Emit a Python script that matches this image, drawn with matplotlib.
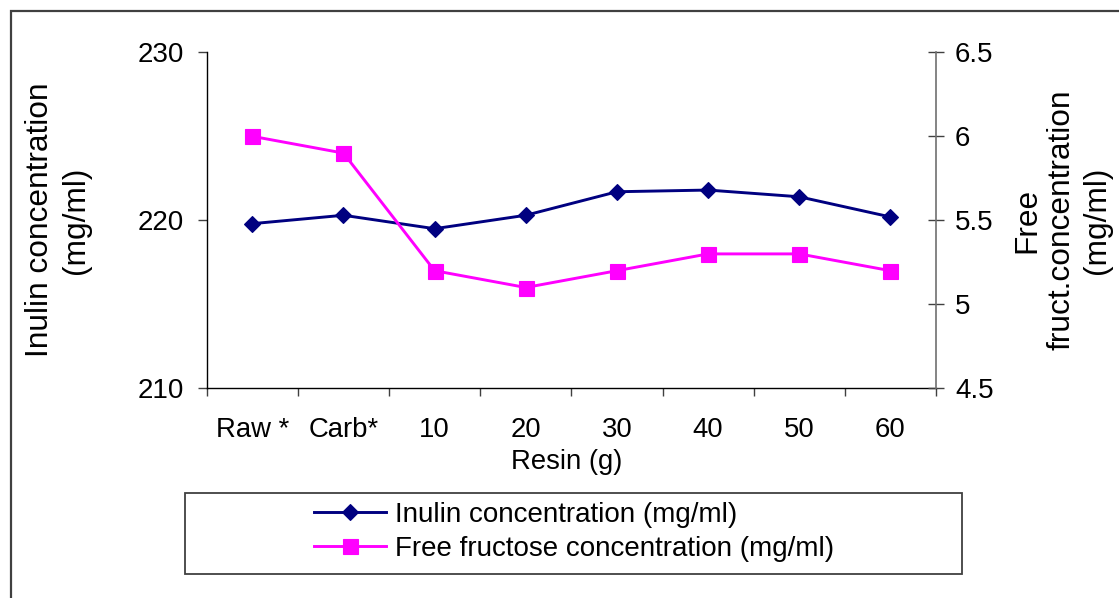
import matplotlib
matplotlib.use("Agg")
import matplotlib.pyplot as plt
from matplotlib.patches import Rectangle
from matplotlib.ticker import FixedLocator, NullFormatter

plt.rcParams["font.family"] = ["Liberation Sans", "DejaVu Sans"]

# Data
categories = ["Raw *", "Carb*", "10", "20", "30", "40", "50", "60"]
inulin = [219.8, 220.3, 219.5, 220.3, 221.7, 221.8, 221.4, 220.2]
fructose = [6.0, 5.9, 5.2, 5.1, 5.2, 5.3, 5.3, 5.2]
inulin_ticks = [210, 220, 230]
fructose_ticks = [4.5, 5, 5.5, 6, 6.5]
fructose_ticklabels = ["4.5", "5", "5.5", "6", "6.5"]

W, H = 1119, 598
fig = plt.figure(figsize=(W / 100, H / 100), dpi=100)
fig.patch.set_facecolor("white")

# Plot area in pixel terms
x0, x1, ytop, ybot = 206.7, 936.0, 52.3, 388.3
ax = fig.add_axes([x0 / W, 1 - ybot / H, (x1 - x0) / W, (ybot - ytop) / H])
ax2 = ax.twinx()

NAVY = "#000080"
MAGENTA = "#FF00FF"
xs = list(range(len(categories)))

l1, = ax.plot(xs, inulin, color=NAVY, lw=2.1, marker="D", ms=8.3,
              mec=NAVY, mew=0.8, zorder=3)
l2, = ax2.plot(xs, fructose, color=MAGENTA, lw=2.1, marker="s", ms=10.8,
               mec=MAGENTA, mew=0.8, zorder=3)

# Primary axis
ax.set_xlim(-0.5, len(categories) - 0.5)
ax.set_ylim(210, 230)
ax.set_yticks(inulin_ticks)
ax.set_yticklabels([str(t) for t in inulin_ticks])
ax.spines["top"].set_visible(False)
ax.spines["right"].set_visible(False)
ax.spines["left"].set_color("black")
ax.spines["bottom"].set_color("black")
ax.spines["left"].set_linewidth(1.0)
ax.spines["bottom"].set_linewidth(1.0)
ax.tick_params(axis="y", direction="out", length=6.5, width=1.0, color="#404040",
               labelsize=20, pad=10)

ax.set_xticks(xs)
ax.set_xticklabels(categories)
ax.xaxis.set_minor_locator(FixedLocator([i - 0.5 for i in range(len(categories) + 1)]))
ax.xaxis.set_minor_formatter(NullFormatter())
ax.tick_params(axis="x", which="major", length=0, labelsize=19.8, pad=20.5)
ax.tick_params(axis="x", which="minor", direction="out", length=5.8, width=1.0,
               color="#404040")

# Secondary axis
ax2.set_ylim(4.5, 6.5)
ax2.set_yticks(fructose_ticks)
ax2.set_yticklabels(fructose_ticklabels)
for s in ("top", "left", "bottom"):
    ax2.spines[s].set_visible(False)
ax2.spines["right"].set_color("#707070")
ax2.spines["right"].set_linewidth(1.2)
ax2.tick_params(axis="y", direction="inout", length=11.5, width=1.0, color="#404040",
                labelsize=20, pad=8)

# Axis titles
fig.text(567 / W, 1 - 462 / H, "Resin (g)", ha="center", va="center", fontsize=19.8)
fig.text(58 / W, 1 - 220 / H, "Inulin concentration\n(mg/ml)", rotation=90,
         ha="center", va="center", multialignment="center", fontsize=22.8,
         linespacing=1.22)
fig.text(1062 / W, 1 - 220 / H, "Free\nfruct.concentration\n(mg/ml)", rotation=90,
         ha="center", va="center", multialignment="center", fontsize=22.8,
         linespacing=1.22)

# Legend with its own box
lx0, lx1, ly0, ly1 = 184.5, 961.5, 492.5, 573.5
fig.add_artist(Rectangle((lx0 / W, 1 - ly1 / H), (lx1 - lx0) / W, (ly1 - ly0) / H,
                         transform=fig.transFigure, fill=False, ec="#404040", lw=1.3))
fig.legend([l1, l2], ["Inulin concentration (mg/ml)", "Free fructose concentration (mg/ml)"],
           loc="center", bbox_to_anchor=(574 / W, 1 - 532 / H), frameon=False,
           fontsize=20, handlelength=2.6, handletextpad=0.3, labelspacing=0.3,
           borderpad=0)

# Outer chart frame
fig.add_artist(Rectangle((11 / W, -0.05), 1.2, (H - 11) / H + 0.05,
                         transform=fig.transFigure, fill=False, ec="#404040", lw=1.6))

fig.savefig("out.png", dpi=100, facecolor="white")
